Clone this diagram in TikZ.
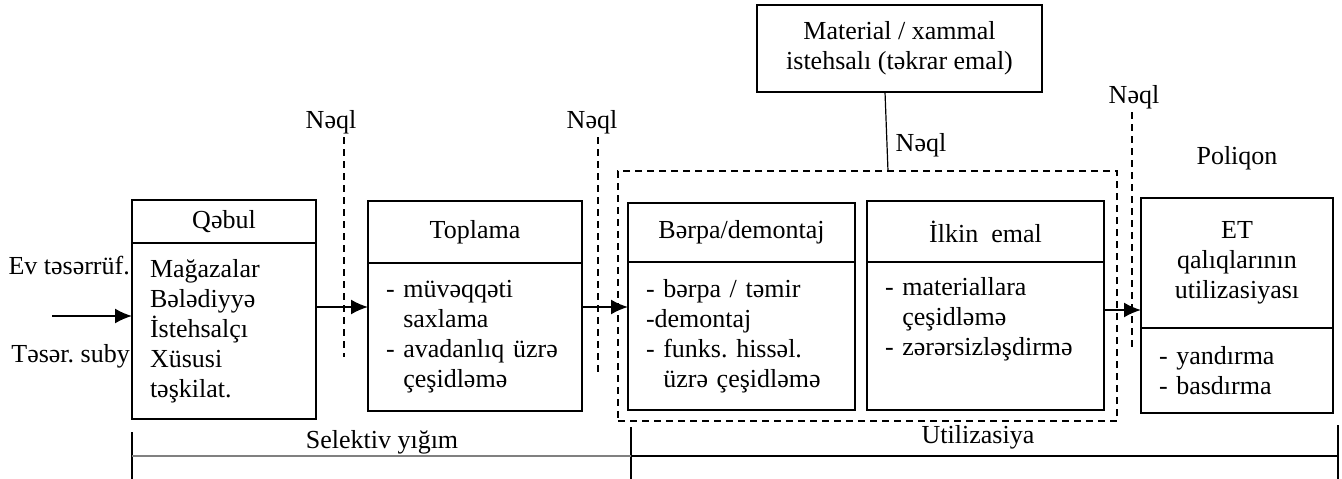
\documentclass[tikz,border=0pt]{standalone}
\usepackage{fontspec}
\setmainfont{Liberation Serif}
\usetikzlibrary{positioning,arrows.meta}
\frenchspacing

\begin{document}
\begin{tikzpicture}[x=1pt,y=-1pt,
		every node/.style={font=\fontsize{26}{30}\selectfont},
		hdr/.style 2 args={draw,line width=1.5pt,outer sep=0pt,minimum width=#1,minimum height=#2,inner sep=0pt,align=center},
		bdy/.style 2 args={draw,line width=1.5pt,outer sep=0pt,text width=#1,minimum height=#2,inner xsep=18pt,inner ysep=0pt,align=left},
		link/.style={-{Latex[length=17pt,width=15pt]},line width=1.8pt},
		naql/.style={line width=1.2pt,dash pattern=on 7pt off 5pt}]
		\useasboundingbox (0,0) rectangle (1342,479);
		
		% dashed group round the two middle stages
		\node[naql,draw,outer sep=0pt,minimum width=499pt,minimum height=250pt,anchor=north west] (grp) at (618,171) {};
		
		% stages
		\node[hdr={184pt}{43pt},anchor=north west] (qhead) at (132,200) {Qəbul};
		\node[bdy={148pt}{176pt},below=0pt of qhead] (qbody) {Mağazalar\\Bələdiyyə\\İstehsalçı\\Xüsusi\\təşkilat.};
		
		\node[hdr={214pt}{62pt},anchor=north west] (thead) at (368,201) {Toplama};
		\node[bdy={178pt}{148pt},below=0pt of thead] (tbody) {- müvəqqəti\\\hphantom{- }saxlama\\- avadanlıq üzrə\\\hphantom{- }çeşidləmə};
		
		\node[hdr={227pt}{59pt},anchor=north west] (bhead) at (628,203) {Bərpa/demontaj};
		\node[bdy={191pt}{148pt},below=0pt of bhead] (bbody) {- bərpa / təmir\\-demontaj\\- funks. hissəl.\\\hphantom{- }üzrə çeşidləmə};
		
		\node[hdr={237pt}{61pt},anchor=north west] (ihead) at (867,201) {İlkin\ \ emal};
		\node[bdy={201pt}{148pt},below=0pt of ihead] (ibody) {- materiallara\\\hphantom{- }çeşidləmə\\- zərərsizləşdirmə\\\strut};
		
		\node[hdr={192pt}{130pt},anchor=north west] (ehead) at (1141,198) {ET\\qalıqlarının\\utilizasiyası};
		\node[bdy={156pt}{85pt},below=0pt of ehead] (ebody) {- yandırma\\- basdırma};
		
		\node[hdr={285pt}{87pt},anchor=north west] (mat) at (757,5) {Material / xammal\\istehsalı (təkrar emal)};
		
		% side labels
		\node[anchor=east,inner sep=0pt] (ev) at (130,266) {Ev təsərrüf.};
		\node[anchor=east,inner sep=0pt] (ts) at (130,356) {Təsər. suby};
		\node (pol) at (1237,158) {Poliqon};
		
		% transport
		\node (n1) at (331,122) {Nəql};
		\node (n2) at (592,122) {Nəql};
		\node (n3) at (921,145) {Nəql};
		\node (n4) at (1134,97) {Nəql};
		\coordinate (n1b) at (344,357);
		\coordinate (n2b) at (598,373);
		\coordinate (n4b) at (1132,348);
		\draw[naql] (n1.south -| n1b) -- (n1b);
		\draw[naql] (n2.south -| n2b) -- (n2b);
		\draw[naql] (n4.south -| n4b) -- (n4b);
		\draw[line width=1.2pt] ([xshift=128pt]mat.south west) -- ([xshift=270pt]grp.north west);
		
		% flow
		\coordinate (in) at (52,316);
		\coordinate (a1) at ([yshift=24pt]qbody.east);
		\coordinate (a2) at ([yshift=30pt]tbody.east);
		\coordinate (a3) at ([yshift=26pt]ibody.east);
		\draw[link] (in) -- (in -| qbody.west);
		\draw[link] (a1) -- (a1 -| tbody.west);
		\draw[link] (a2) -- (a2 -| bbody.west);
		\draw[link] (a3) -- (a3 -| ehead.west);
		
		% phases
		\node (sel) at (382,442) {Selektiv yığım};
		\node (uti) at (978,437) {Utilizasiya};
		\draw[line width=1.2pt] (132,432) -- (132,479) (631,427) -- (631,479) (1338,425) -- (1338,479);
		\draw[gray,line width=1.2pt] (132,456) -- (631,456);
		\draw[line width=1.5pt] (631,456) -- (1338,456);
	\end{tikzpicture}
\end{document}
